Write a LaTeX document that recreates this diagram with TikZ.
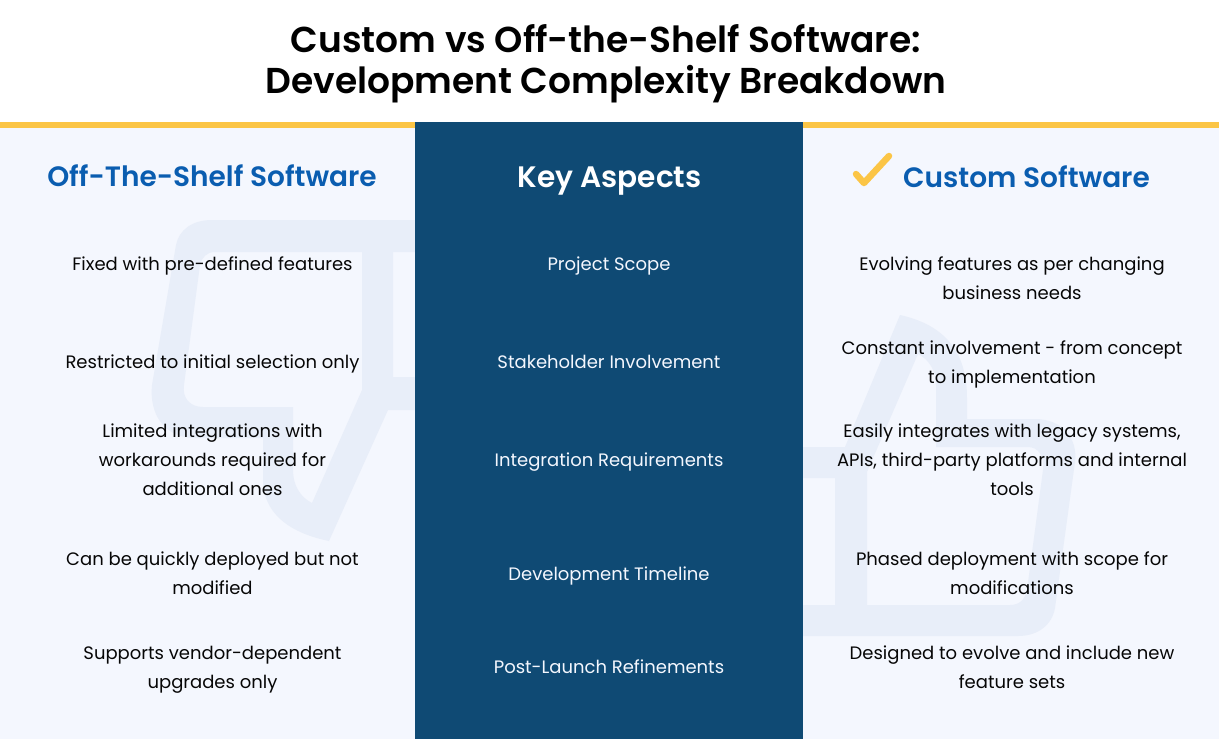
\documentclass[tikz,border=0pt]{standalone}
\usepackage{fontspec}
\setmainfont{Poppins}
\newfontfamily\semib[UprightFont={* SemiBold},BoldFont={* Bold}]{Poppins}
\newcommand{\ls}{\rule[-10pt]{0pt}{29pt}}
\definecolor{pagebg}{HTML}{F4F7FE}
\definecolor{wmark}{HTML}{E8EEF9}
\definecolor{panelblue}{HTML}{0F4A74}
\definecolor{gold}{HTML}{FBC546}
\definecolor{headblue}{HTML}{0A5DB0}
\definecolor{ink}{HTML}{060606}
\tikzset{
  x=1pt,y=-1pt,
  titletext/.style={inner sep=0pt,align=center,text=black,font=\semib\fontsize{36}{41}\selectfont},
  headtext/.style={inner sep=0pt,text=headblue,font=\semib\fontsize{28}{34}\selectfont},
  keyhead/.style={inner sep=0pt,text=white,font=\semib\fontsize{29.6}{34}\selectfont},
  bodytext/.style={inner sep=0pt,align=center,text=ink,font=\fontsize{18}{29}\selectfont},
  keytext/.style={inner sep=0pt,align=center,text=pagebg,font=\fontsize{18}{29}\selectfont},
}
\begin{document}
\begin{tikzpicture}
\useasboundingbox (0,0) rectangle (1219,739);
\fill[white] (0,0) rectangle (1219,739);
\fill[pagebg] (0,122) rectangle (1219,739);
% left watermark
\fill[wmark,even odd rule]
  (415,220) -- (212,220) .. controls (192,220) and (179,230) .. (176,245)
  -- (152,385) .. controls (149,415) and (165,438) .. (195,438)
  -- (263,438) -- (263,480) .. controls (263,510) and (285,532) .. (329,541)
  -- (388,410) -- (415,410) -- cycle
  (215,252) -- (362,252) -- (362,390) -- (312,503)
  .. controls (300,497) and (293,485) .. (293,470)
  -- (293,407) -- (203,407) .. controls (190,407) and (182,398) .. (184,385)
  -- (200,265) .. controls (202,257) and (207,252) .. (215,252) -- cycle
  (393,252) -- (415,252) -- (415,377) -- (393,377) -- cycle;
% right watermark
\fill[wmark,even odd rule]
  (803,636) -- (1018,636) .. controls (1038,636) and (1052,625) .. (1055,608)
  -- (1075,462) .. controls (1078,438) and (1062,419) .. (1035,419)
  -- (967,419) -- (967,398) .. controls (967,352) and (945,325) .. (900,315)
  -- (845,447) -- (803,447) -- cycle
  (1010,605) -- (867,605) -- (867,472) -- (918,354)
  .. controls (930,360) and (936,372) .. (936,385)
  -- (936,447) -- (1028,447) .. controls (1038,447) and (1045,456) .. (1043,470)
  -- (1027,590) .. controls (1025,600) and (1019,605) .. (1010,605) -- cycle
  (803,478) -- (835,478) -- (835,605) -- (803,605) -- cycle;
% bars and panel
\fill[gold] (0,122) rectangle (1219,128);
\fill[panelblue] (415,122) rectangle (803,739);
% check mark
\draw[gold,line width=6.5pt,line cap=round,line join=round] (856,174) -- (864,183) -- (889,156);
% title
\node[titletext] (title) at (606,64) {Custom vs Off-the-Shelf Software:\\Development Complexity Breakdown};
% heads
\node[headtext] (hleft) at (212,176) {Off-The-Shelf Software};
\node[keyhead] (hmid) at (609.5,181) {Key Aspects};
\node[headtext] (hright) at (1026.5,177) {Custom Software};
% left
\node[bodytext] (l1) at (212.5,266) {\ls Fixed with pre-defined features};
\node[bodytext] (l2) at (212.5,364) {\ls Restricted to initial selection only};
\node[bodytext] (l3) at (212.5,462) {\ls Limited integrations with\\\ls workarounds required for\\\ls additional ones};
\node[bodytext] (l4) at (212.5,575) {\ls Can be quickly deployed but not\\\ls modified};
\node[bodytext] (l5) at (212.5,669) {\ls Supports vendor-dependent\\\ls upgrades only};
% middle
\node[keytext] (m1) at (609,266) {\ls Project Scope};
\node[keytext] (m2) at (609,364) {\ls Stakeholder Involvement};
\node[keytext] (m3) at (609,462) {\ls Integration Requirements};
\node[keytext] (m4) at (609,576) {\ls Development Timeline};
\node[keytext] (m5) at (609,669) {\ls Post-Launch Refinements};
% right
\node[bodytext] (r1) at (1012,280.5) {\ls Evolving features as per changing\\\ls business needs};
\node[bodytext] (r2) at (1012,364) {\ls Constant involvement - from concept\\\ls to implementation};
\node[bodytext] (r3) at (1012,462) {\ls Easily integrates with legacy systems,\\\ls APIs, third-party platforms and internal\\\ls tools};
\node[bodytext] (r4) at (1012,575) {\ls Phased deployment with scope for\\\ls modifications};
\node[bodytext] (r5) at (1012,669) {\ls Designed to evolve and include new\\\ls feature sets};
\end{tikzpicture}
\end{document}
